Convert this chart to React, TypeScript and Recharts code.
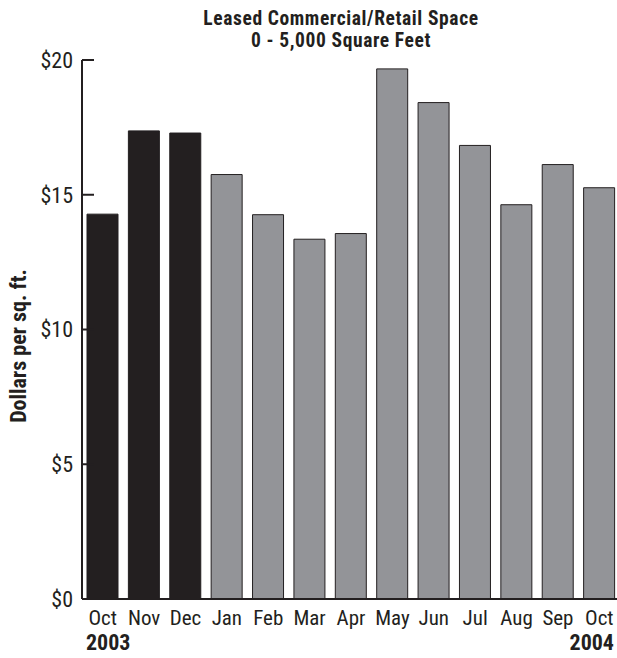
import { BarChart, Bar, XAxis, YAxis, Cell } from 'recharts';

const months = ['Oct', 'Nov', 'Dec', 'Jan', 'Feb', 'Mar', 'Apr', 'May', 'Jun', 'Jul', 'Aug', 'Sep', 'Oct'];
const years = [2003, 2003, 2003, 2004, 2004, 2004, 2004, 2004, 2004, 2004, 2004, 2004, 2004];
const prices = [14.28, 17.37, 17.29, 15.75, 14.26, 13.35, 13.56, 19.67, 18.42, 16.83, 14.63, 16.12, 15.26];
const yTicks = [0, 5, 10, 15, 20];
const titleLines = ['Leased Commercial/Retail Space', '0 - 5,000 Square Feet'];

const FONT = '"Liberation Sans Narrow", "Roboto Condensed", "DejaVu Sans Condensed", "Liberation Sans", sans-serif';
const INK = '#231f20';
const GRAY = '#939498';

export default function App() {
  const data = months.map((m, i) => ({ key: i, month: m, year: years[i], price: prices[i] }));
  return (
    <div style={{ position: 'absolute', left: 0, top: 0, width: 617, height: 658, overflow: 'hidden', background: '#fff', fontFamily: FONT, color: INK }}>
      {titleLines.map((t, i) => (
        <div key={t} style={{ position: 'absolute', left: 141, top: 8 + i * 22, width: 400, textAlign: 'center', fontWeight: 'bold', fontSize: 19.5, lineHeight: '22px', letterSpacing: '0.6px' }}>
          {t}
        </div>
      ))}
      <div style={{ position: 'absolute', left: -81, top: 334, width: 200, height: 24, textAlign: 'center', fontWeight: 'bold', fontSize: 22, lineHeight: '24px', transform: 'rotate(-90deg)' }}>
        Dollars per sq. ft.
      </div>
      <BarChart width={620} height={658} data={data} margin={{ top: 60, right: 0, bottom: 0, left: 0 }}>
        <XAxis
          dataKey="key"
          tickFormatter={(i: number) => months[i]}
          interval={0}
          tickLine={false}
          tickSize={0}
          tickMargin={11}
          axisLine={{ stroke: INK, strokeWidth: 2 }}
          tick={{ fill: INK, fontSize: 21, fontFamily: FONT }}
          height={59}
        />
        <YAxis
          domain={[0, 20]}
          ticks={yTicks}
          tickFormatter={(v: number) => `$${v}`}
          width={82}
          tickSize={-12}
          tickMargin={21}
          axisLine={{ stroke: INK, strokeWidth: 2 }}
          tickLine={{ stroke: INK, strokeWidth: 2 }}
          tick={{ fill: INK, fontSize: 22, fontFamily: FONT }}
        />
        <Bar dataKey="price" barSize={31} stroke={INK} strokeWidth={1} isAnimationActive={false}>
          {data.map((d) => (
            <Cell key={d.key} fill={d.year === 2003 ? INK : GRAY} />
          ))}
        </Bar>
      </BarChart>
      <div style={{ position: 'absolute', left: 86, top: 630, fontWeight: 'bold', fontSize: 22, lineHeight: '26px' }}>{years[0]}</div>
      <div style={{ position: 'absolute', right: 3, top: 630, fontWeight: 'bold', fontSize: 22, lineHeight: '26px' }}>{years[years.length - 1]}</div>
    </div>
  );
}
